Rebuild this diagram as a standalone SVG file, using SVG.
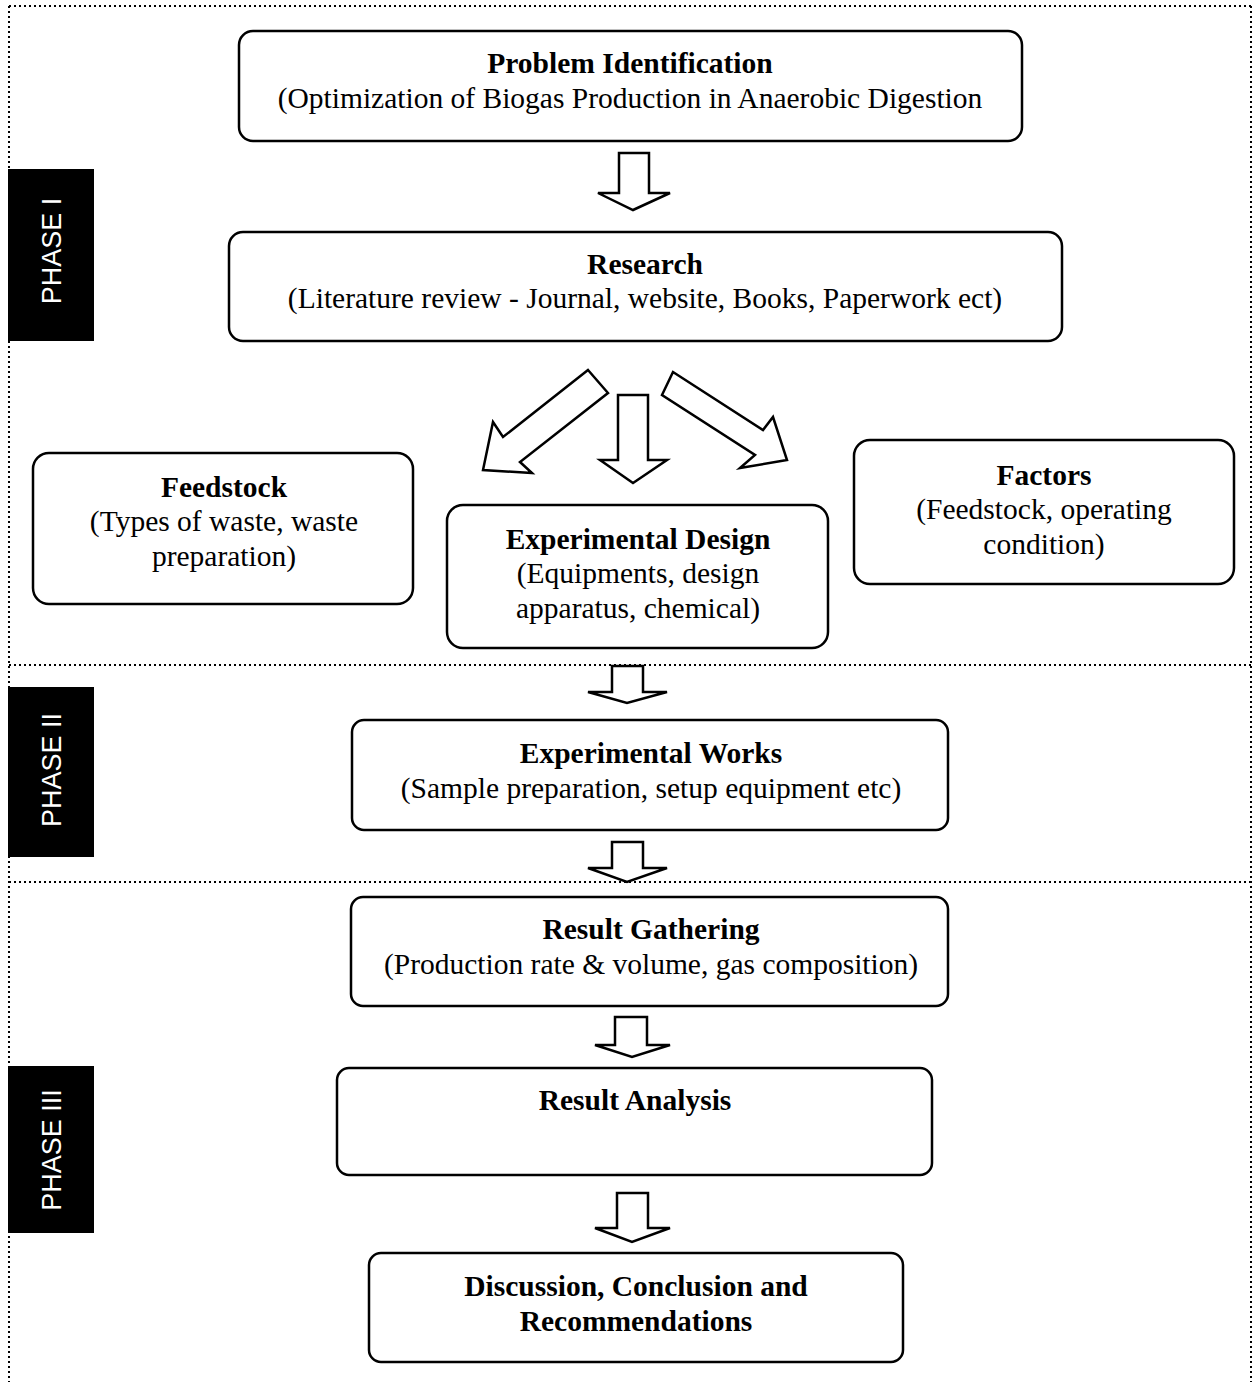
<svg xmlns="http://www.w3.org/2000/svg" width="1257" height="1382" viewBox="0 0 1257 1382">
<style>
.bg{fill:#fff}
.dot{stroke:#000;stroke-width:2;stroke-dasharray:2 3;fill:none}
.box{fill:#fff;stroke:#000;stroke-width:2.5}
.arr{fill:#fff;stroke:#000;stroke-width:2.5;stroke-linejoin:miter}
.ph{fill:#000}
.pht{fill:#fff;font-family:"Liberation Sans","Open Sans",sans-serif;font-size:27px;text-anchor:middle;dominant-baseline:central}
.t{font-family:"Liberation Serif","Times New Roman",serif;font-size:29.5px;text-anchor:middle;fill:#000}
.b{font-weight:bold}
</style>
<rect class="bg" x="0" y="0" width="1257" height="1382"/>
<g id="frame">
<line class="dot" x1="9" y1="6" x2="1251" y2="6"/>
<line class="dot" x1="9" y1="6" x2="9" y2="1382"/>
<line class="dot" x1="1251" y1="6" x2="1251" y2="1382"/>
<line class="dot" x1="9" y1="665" x2="1251" y2="665"/>
<line class="dot" x1="9" y1="882" x2="1251" y2="882"/>
</g>
<g id="phase1"><rect class="ph" x="8" y="169" width="86" height="172"/><text class="pht" transform="translate(52,251) rotate(-90)">PHASE I</text></g>
<g id="phase2"><rect class="ph" x="8" y="687" width="86" height="170"/><text class="pht" transform="translate(52,770) rotate(-90)">PHASE II</text></g>
<g id="phase3"><rect class="ph" x="8" y="1066" width="86" height="167"/><text class="pht" transform="translate(52,1150) rotate(-90)">PHASE III</text></g>
<g id="connectors">
<polygon class="arr" points="619,153 649,153 649,193 670,193 633,210 598,193 619,193"/>
<polygon class="arr" points="618,395 648,395 648,460 667,460 633,483 600,460 618,460"/>
<polygon class="arr" points="588,370 608,393 520,462 532,473 483,470 493,422 503,437"/>
<polygon class="arr" points="673,372 662,395 755,455 740,468 787,460 773,417 763,430"/>
<polygon class="arr" points="612,666 643,666 643,692 667,692 627,703 588,692 612,692"/>
<polygon class="arr" points="612,842 643,842 643,868 667,868 627,882 588,868 612,868"/>
<polygon class="arr" points="615,1017 647,1017 647,1045 670,1045 632,1057 595,1045 615,1045"/>
<polygon class="arr" points="617,1193 648,1193 648,1228 670,1228 632,1242 595,1228 617,1228"/>
</g>
<g id="problem"><rect class="box" x="239" y="31" width="783" height="110" rx="14"/>
<text class="t b" x="630" y="73">Problem Identification</text>
<text class="t" x="630" y="108">(Optimization of Biogas Production in Anaerobic Digestion</text></g>
<g id="research"><rect class="box" x="229" y="232" width="833" height="109" rx="14"/>
<text class="t b" x="645" y="274">Research</text>
<text class="t" x="645" y="308">(Literature review - Journal, website, Books, Paperwork ect)</text></g>
<g id="feedstock"><rect class="box" x="33" y="453" width="380" height="151" rx="16"/>
<text class="t b" x="224" y="497">Feedstock</text>
<text class="t" x="224" y="531">(Types of waste, waste</text>
<text class="t" x="224" y="566">preparation)</text></g>
<g id="design"><rect class="box" x="447" y="505" width="381" height="143" rx="16"/>
<text class="t b" x="638" y="549">Experimental Design</text>
<text class="t" x="638" y="583">(Equipments, design</text>
<text class="t" x="638" y="618">apparatus, chemical)</text></g>
<g id="factors"><rect class="box" x="854" y="440" width="380" height="144" rx="16"/>
<text class="t b" x="1044" y="485">Factors</text>
<text class="t" x="1044" y="519">(Feedstock, operating</text>
<text class="t" x="1044" y="554">condition)</text></g>
<g id="works"><rect class="box" x="352" y="720" width="596" height="110" rx="12"/>
<text class="t b" x="651" y="763">Experimental Works</text>
<text class="t" x="651" y="798">(Sample preparation, setup equipment etc)</text></g>
<g id="gathering"><rect class="box" x="351" y="897" width="597" height="109" rx="12"/>
<text class="t b" x="651" y="939">Result Gathering</text>
<text class="t" x="651" y="974">(Production rate &amp; volume, gas composition)</text></g>
<g id="analysis"><rect class="box" x="337" y="1068" width="595" height="107" rx="12"/>
<text class="t b" x="635" y="1110">Result Analysis</text></g>
<g id="discussion"><rect class="box" x="369" y="1253" width="534" height="109" rx="12"/>
<text class="t b" x="636" y="1296">Discussion, Conclusion and</text>
<text class="t b" x="636" y="1331">Recommendations</text></g>
</svg>
